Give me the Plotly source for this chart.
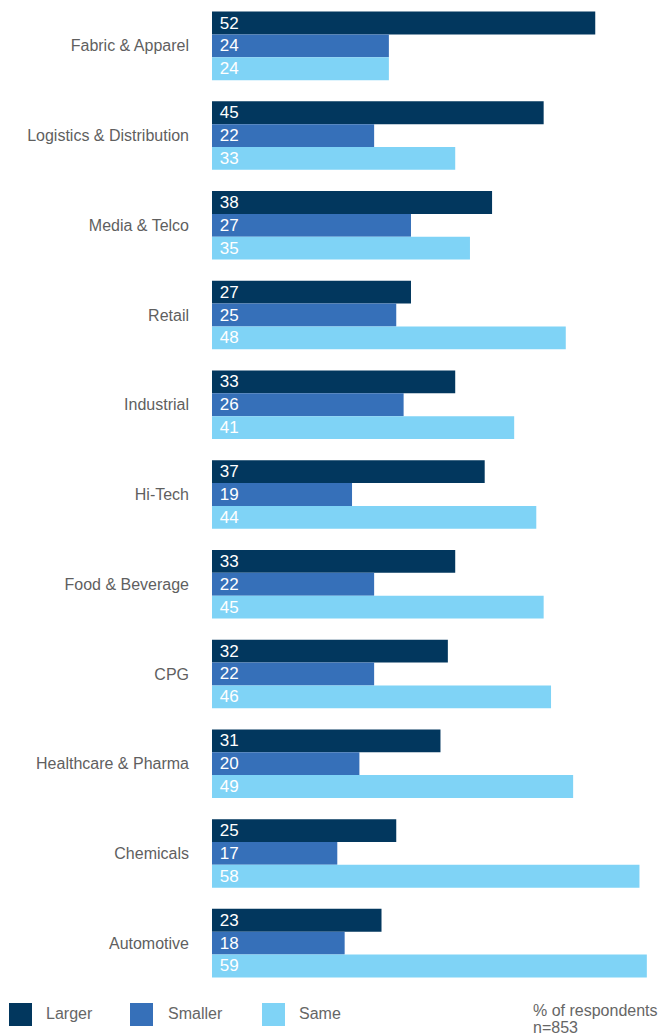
import plotly.graph_objects as go

# Survey data: share of respondents per industry (each row sums to 100)
categories = [
    "Fabric & Apparel", "Logistics & Distribution", "Media & Telco", "Retail",
    "Industrial", "Hi-Tech", "Food & Beverage", "CPG", "Healthcare & Pharma",
    "Chemicals", "Automotive",
]
larger = [52, 45, 38, 27, 33, 37, 33, 32, 31, 25, 23]
smaller = [24, 22, 27, 25, 26, 19, 22, 22, 20, 17, 18]
same = [24, 33, 35, 48, 41, 44, 45, 46, 49, 58, 59]

series_names = ["Larger", "Smaller", "Same"]
series_values = [larger, smaller, same]
colors = ["#02375e", "#3670b9", "#7fd3f6"]

note_lines = ["% of respondents", "n=853"]

W, H = 659, 1035
M_L, M_R, M_T, M_B = 212, 0, 1, 47
FONT = "Liberation Sans, Arial, Helvetica, sans-serif"

fig = go.Figure()
for name, vals, col in zip(series_names, series_values, colors):
    fig.add_trace(go.Bar(
        y=categories,
        x=vals,
        name=name,
        orientation="h",
        marker=dict(color=col, line=dict(width=0)),
        text=vals,
        texttemplate="\u00a0%{x}",
        textposition="inside",
        insidetextanchor="start",
        constraintext="none",
        textfont=dict(color="white", size=17, family=FONT),
        hoverinfo="skip",
    ))

plot_w = W - M_L - M_R
plot_h = H - M_T - M_B


def px_x(x):
    return (x - M_L) / plot_w


def px_y(y):
    return (H - M_B - y) / plot_h


shapes = []
annotations = []
legend_pos = [(9, 44), (130, 166), (262, 297)]
for (sx, tx), name, col in zip(legend_pos, series_names, colors):
    shapes.append(dict(
        type="rect", xref="paper", yref="paper",
        x0=px_x(sx), x1=px_x(sx + 23), y0=px_y(1026), y1=px_y(1003),
        fillcolor=col, line=dict(width=0),
    ))
    annotations.append(dict(
        xref="paper", yref="paper", x=px_x(tx), y=px_y(1013),
        xanchor="left", yanchor="middle", text=name, showarrow=False,
        font=dict(size=16, color="#666666", family=FONT),
    ))

for line, ypx in zip(note_lines, [1010, 1027]):
    annotations.append(dict(
        xref="paper", yref="paper", x=px_x(531), y=px_y(ypx),
        xanchor="left", yanchor="middle", text=line, showarrow=False,
        font=dict(size=16, color="#666666", family=FONT),
    ))

fig.update_layout(
    width=W, height=H,
    margin=dict(l=M_L, r=M_R, t=M_T, b=M_B, pad=0),
    barmode="group",
    bargap=0.236,
    bargroupgap=0,
    showlegend=False,
    plot_bgcolor="white",
    paper_bgcolor="white",
    font=dict(family=FONT),
    shapes=shapes,
    annotations=annotations,
    xaxis=dict(
        range=[0, 60.65], showgrid=False, zeroline=False,
        showticklabels=False, ticks="", showline=False, fixedrange=True,
    ),
    yaxis=dict(
        categoryorder="array", categoryarray=categories,
        autorange="reversed", showgrid=False, zeroline=False,
        ticks="", showline=False, ticklabelstandoff=22,
        tickfont=dict(size=16, color="#5f5f5f", family=FONT),
        fixedrange=True,
    ),
)

fig.write_html("out.html")
